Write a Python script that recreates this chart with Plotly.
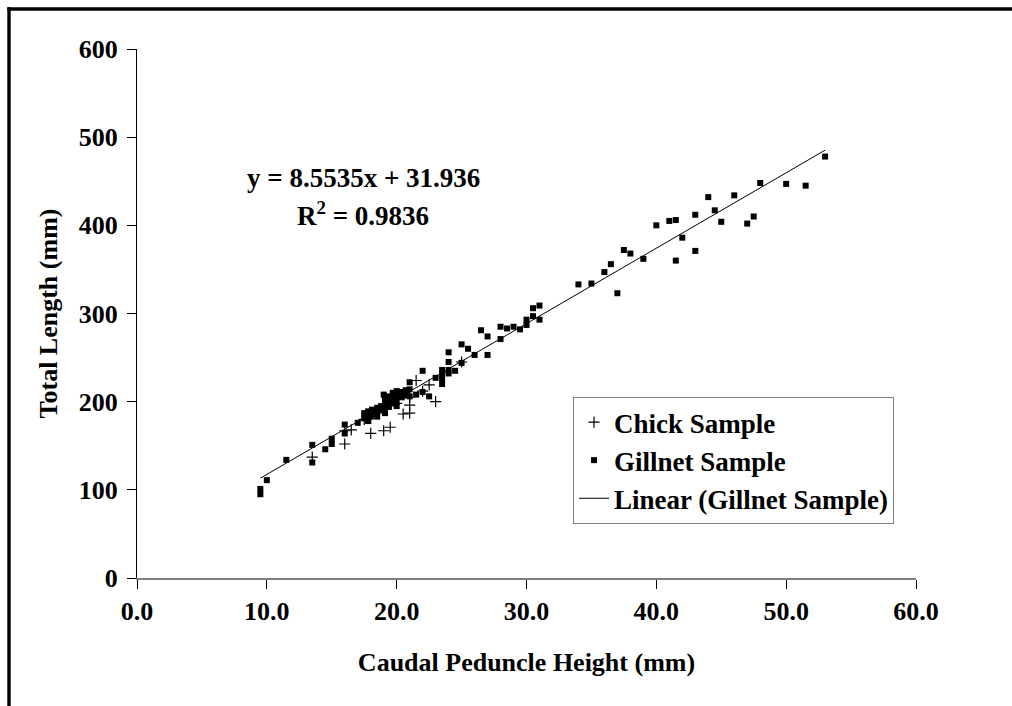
import plotly.graph_objects as go

# ---- data ----
gillnet_x = [9.5, 9.5, 10.0, 11.5, 13.5, 13.5, 14.5, 15.0, 15.0, 16.0, 16.0, 17.0,
             17.5, 17.5, 17.8, 17.8, 17.8, 18.0, 18.1, 18.1, 18.5, 18.5, 18.5, 18.8, 18.8,
             19.0, 19.1, 19.1, 19.1, 19.1, 19.4, 19.4, 19.4, 19.7, 19.7, 19.7,
             20.0, 20.0, 20.0, 20.0, 20.4, 20.4, 20.7, 20.7, 21.0, 21.0, 21.0, 21.5,
             22.0, 22.0, 22.5, 23.0, 23.5, 23.5, 23.5, 23.5, 24.0, 24.0, 24.0, 24.0,
             24.5, 25.0, 25.0, 25.5, 26.0, 26.5, 27.0, 27.0, 28.0, 28.0, 28.5, 29.0,
             29.5, 30.0, 30.0, 30.5, 30.5, 31.0, 31.0, 34.0, 35.0, 36.0, 36.5, 37.0,
             37.5, 38.0, 39.0, 40.0, 41.0, 41.5, 41.5, 42.0, 43.0, 43.0, 44.0, 44.5,
             45.0, 46.0, 47.0, 47.5, 48.0, 50.0, 51.5, 53.0]
gillnet_y = [101, 95, 111, 134, 151, 131, 146, 158, 152, 174, 164, 176,
             187, 181, 189, 185, 178, 183, 191, 186, 193, 188, 183, 195, 190,
             208, 203, 198, 193, 187, 206, 200, 194, 210, 204, 198,
             212, 206, 200, 195, 211, 205, 213, 207, 214, 206, 222, 208,
             211, 235, 206, 227, 236, 231, 226, 220, 256, 245, 236, 232,
             235, 265, 244, 260, 253, 281, 274, 253, 285, 271, 283, 285,
             282, 293, 287, 306, 297, 309, 293, 333, 334, 347, 356, 323,
             372, 368, 362, 400, 405, 406, 360, 386, 412, 371, 432, 417,
             404, 434, 402, 410, 448, 447, 445, 478]

chick_x = [13.5, 16.0, 16.0, 16.5, 17.5, 18.0, 18.0, 19.0, 19.5, 20.0, 20.5,
           21.0, 21.0, 21.0, 21.5, 22.0, 22.5, 23.0, 25.0, 19.0, 20.5]
chick_y = [137, 152, 167, 168, 180, 164, 181, 167, 171, 198, 186,
           187, 196, 205, 224, 212, 219, 200, 245, 195, 208]

slope = 8.5535
intercept = 31.936
r_squared = 0.9836

x_ticks = [0, 10, 20, 30, 40, 50, 60]
y_ticks = [0, 100, 200, 300, 400, 500, 600]

# ---- layout constants (pixels) ----
W, H = 1012, 706
L, R, T, B = 137, 96, 49, 128
PW, PH = W - L - R, H - T - B

def px_x(p):
    return (p - L) / PW

def px_y(p):
    return (H - B - p) / PH

FONT = "Liberation Serif, Times New Roman, serif"

fit_x = [min(gillnet_x), max(gillnet_x)]
fit_y = [slope * v + intercept for v in fit_x]

fig = go.Figure()
fig.add_trace(go.Scatter(
    x=chick_x, y=chick_y, mode="markers", name="Chick Sample",
    marker=dict(symbol="cross-thin", size=8, color="black",
                line=dict(color="black", width=1.2)),
))
fig.add_trace(go.Scatter(
    x=gillnet_x, y=gillnet_y, mode="markers", name="Gillnet Sample",
    marker=dict(symbol="square", size=6, color="black"),
))
fig.add_trace(go.Scatter(
    x=fit_x, y=fit_y, mode="lines", name="Linear (Gillnet Sample)",
    line=dict(color="black", width=1),
))

border = dict(color="black", width=3.4)

fig.update_layout(
    width=W, height=H,
    margin=dict(l=L, r=R, t=T, b=B, pad=0),
    paper_bgcolor="white", plot_bgcolor="white",
    font=dict(family=FONT, size=26, color="black", weight="bold"),
    showlegend=True,
    legend=dict(
        x=px_x(573), y=px_y(397), xanchor="left", yanchor="top",
        bordercolor="#808080", borderwidth=1, bgcolor="white",
        font=dict(family=FONT, size=27, color="black", weight="bold"),
        itemwidth=30,
    ),
    xaxis=dict(
        range=[0, 60], tickvals=x_ticks, ticktext=[f"{v:.1f}" for v in x_ticks],
        ticks="outside", ticklen=9, tickwidth=1, tickcolor="black",
        showline=True, linecolor="#808080", linewidth=2,
        showgrid=False, zeroline=False,
        tickfont=dict(family=FONT, size=26, weight="bold"),
        title=dict(text="Caudal Peduncle Height (mm)", standoff=28,
                   font=dict(family=FONT, size=26, weight="bold")),
    ),
    yaxis=dict(
        range=[0, 600], tickvals=y_ticks, ticktext=[str(v) for v in y_ticks],
        ticks="outside", ticklen=9, tickwidth=1, tickcolor="black",
        showline=True, linecolor="black", linewidth=1,
        showgrid=False, zeroline=False,
        tickfont=dict(family=FONT, size=26, weight="bold"),
        ticklabelstandoff=4,
        title=dict(text="Total Length (mm)", standoff=13,
                   font=dict(family=FONT, size=26, weight="bold")),
    ),
    shapes=[
        dict(type="rect", xref="paper", yref="paper",
             x0=px_x(998), x1=px_x(W), y0=px_y(12), y1=px_y(H),
             line=dict(width=0), fillcolor="white", layer="above"),
        dict(type="line", xref="paper", yref="paper",
             x0=px_x(7.3), x1=px_x(W), y0=px_y(9), y1=px_y(9),
             line=border, layer="above"),
        dict(type="line", xref="paper", yref="paper",
             x0=px_x(9), x1=px_x(9), y0=px_y(7.3), y1=px_y(H),
             line=border, layer="above"),
    ],
    annotations=[
        dict(xref="paper", yref="paper", x=px_x(363), y=px_y(178),
             text=f"y = {slope}x + {intercept}", showarrow=False,
             xanchor="center", yanchor="middle",
             font=dict(family=FONT, size=27, weight="bold")),
        dict(xref="paper", yref="paper", x=px_x(363), y=px_y(214),
             text=f"R<sup>2</sup> = {r_squared}", showarrow=False,
             xanchor="center", yanchor="middle",
             font=dict(family=FONT, size=27, weight="bold")),
    ],
)

fig.write_html(
    "out.html",
    post_script=("document.documentElement.style.overflow='hidden';"
                 "document.body.style.overflow='hidden';"
                 "document.body.style.margin='0';"),
)
